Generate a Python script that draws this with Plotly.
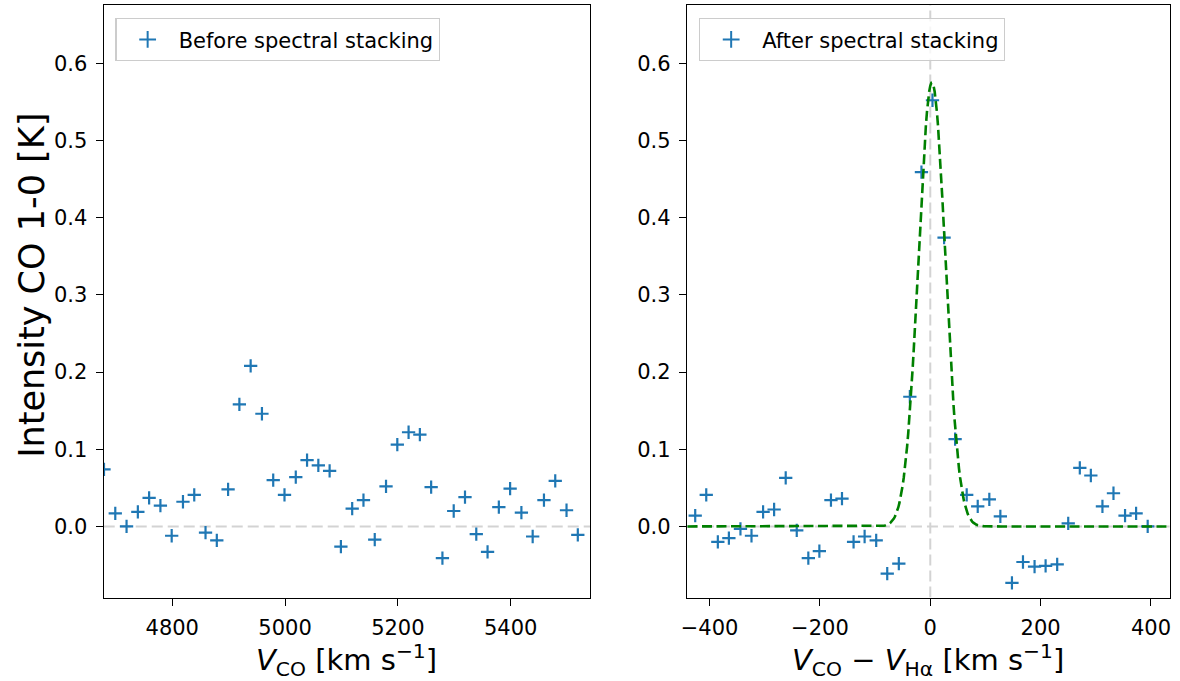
import math
import plotly.graph_objects as go

# ---------------- data ----------------
before_v = [4679, 4699, 4719, 4739, 4759, 4779, 4799, 4819, 4839, 4859, 4879,
            4899, 4919, 4939, 4959, 4979, 4999, 5019, 5039, 5059, 5079, 5099,
            5119, 5139, 5159, 5179, 5199, 5219, 5239, 5259, 5279, 5299, 5319,
            5339, 5359, 5379, 5399, 5419, 5439, 5459, 5479, 5499, 5519]
before_t = [0.074, 0.017, 0.000, 0.019, 0.037, 0.027, -0.012, 0.032, 0.041, -0.008, -0.018,
            0.048, 0.158, 0.208, 0.146, 0.060, 0.041, 0.064, 0.086, 0.079, 0.072, -0.026,
            0.023, 0.034, -0.017, 0.052, 0.106, 0.122, 0.119, 0.051, -0.041, 0.020, 0.038,
            -0.010, -0.033, 0.025, 0.049, 0.018, -0.013, 0.034, 0.059, 0.021, -0.011]

after_v = [-426, -406, -385, -365, -344, -324, -303, -283, -262, -242, -221,
           -201, -180, -160, -139, -119, -98, -78, -57, -37, -16, 4, 25, 45,
           66, 86, 107, 127, 148, 168, 189, 209, 230, 250, 271, 291, 312, 332,
           353, 373, 394]
after_t = [0.014, 0.041, -0.020, -0.015, -0.003, -0.012, 0.019, 0.022, 0.063, -0.005, -0.041,
           -0.032, 0.034, 0.036, -0.020, -0.013, -0.018, -0.061, -0.048, 0.168, 0.459, 0.552,
           0.374, 0.113, 0.041, 0.026, 0.035, 0.013, -0.073, -0.046, -0.052, -0.051, -0.049,
           0.004, 0.076, 0.066, 0.026, 0.043, 0.014, 0.017, 0.000]

# Gaussian fit parameters (amplitude [K], centre, sigma [km/s])
fit_amp = 0.575
fit_mu = 3.0
fit_sigma = 24.3
fit_v = [-440 + 2 * i for i in range(438)]
fit_t = [fit_amp * math.exp(-((v - fit_mu) ** 2) / (2 * fit_sigma ** 2)) for v in fit_v]

y_ticks = [0.0, 0.1, 0.2, 0.3, 0.4, 0.5, 0.6]
left_xticks = [4800, 5000, 5200, 5400]
right_xticks = [-400, -200, 0, 200, 400]

# ---------------- figure ----------------
W, H = 1180, 681
FONT = "DejaVu Sans"
BLUE = "#1f77b4"
GREY = "#d3d3d3"
TICK_SIZE = 21
LABEL_SIZE = 29

fig = go.Figure()

marker = dict(symbol="cross-thin", size=9.5, color=BLUE, line=dict(color=BLUE, width=2.2))

fig.add_trace(go.Scatter(x=before_v, y=before_t, mode="markers", marker=marker,
                         name="Before spectral stacking", xaxis="x", yaxis="y",
                         legend="legend"))
fig.add_trace(go.Scatter(x=after_v, y=after_t, mode="markers", marker=marker,
                         name="After spectral stacking", xaxis="x2", yaxis="y2",
                         legend="legend2"))
fig.add_trace(go.Scatter(x=fit_v, y=fit_t, mode="lines",
                         line=dict(color="green", width=2.6, dash="10px,4.5px"),
                         showlegend=False, xaxis="x2", yaxis="y2"))

def px2x(p):
    return p / W

def px2y(p):
    return 1 - p / H

yd = [px2y(597.5), px2y(4.5)]
axis_common = dict(showline=True, mirror=True, linecolor="black", linewidth=1.3,
                   ticks="outside", ticklen=7, tickwidth=1.3, tickcolor="black",
                   showgrid=False, zeroline=False, ticklabelstandoff=4,
                   tickfont=dict(family=FONT, size=TICK_SIZE, color="black"))

legend_common = dict(xanchor="left", yanchor="top",
                     bgcolor="rgba(255,255,255,0.8)", bordercolor="#cccccc", borderwidth=1.3,
                     font=dict(family=FONT, size=TICK_SIZE, color="black"),
                     itemwidth=52, itemsizing="constant", tracegroupgap=0)

dash_grey = dict(color=GREY, width=2, dash="11px,5px")

fig.update_layout(
    width=W, height=H,
    margin=dict(l=0, r=0, t=0, b=0),
    paper_bgcolor="white", plot_bgcolor="white",
    font=dict(family=FONT, color="black"),
    xaxis=dict(domain=[px2x(98.3), px2x(587.7)], range=[4678.5, 5541],
               tickvals=left_xticks, anchor="y", **axis_common),
    yaxis=dict(domain=yd, range=[-0.092, 0.676], tickvals=y_ticks, tickformat=".1f",
               anchor="x", **axis_common),
    xaxis2=dict(domain=[px2x(685), px2x(1170.7)], range=[-441, 434],
                tickvals=right_xticks, anchor="y2", **axis_common),
    yaxis2=dict(domain=yd, range=[-0.092, 0.676], tickvals=y_ticks, tickformat=".1f",
                anchor="x2", **axis_common),
    legend=dict(x=px2x(110), y=px2y(18), **legend_common),
    legend2=dict(x=px2x(697), y=px2y(18), **legend_common),
    shapes=[
        dict(type="line", xref="x", yref="y", x0=4678.5, x1=5541, y0=0, y1=0,
             line=dash_grey, layer="below"),
        dict(type="line", xref="x2", yref="y2", x0=-441, x1=434, y0=0, y1=0,
             line=dash_grey, layer="below"),
        dict(type="line", xref="x2", yref="y2", x0=0, x1=0, y0=-0.092, y1=0.676,
             line=dash_grey, layer="below"),
    ],
    annotations=[
        dict(text="Intensity CO 1-0 [K]", xref="paper", yref="paper",
             x=px2x(26), y=px2y(285), textangle=-90, showarrow=False,
             xanchor="center", yanchor="middle",
             font=dict(family=FONT, size=35, color="black")),
        dict(text="<i>V</i><sub>CO</sub> [km s<sup>−1</sup>]", xref="paper", yref="paper",
             x=px2x(343), y=px2y(659.5), showarrow=False, xanchor="center", yanchor="middle",
             font=dict(family=FONT, size=LABEL_SIZE, color="black")),
        dict(text="<i>V</i><sub>CO</sub> − <i>V</i><sub>Hα</sub> [km s<sup>−1</sup>]",
             xref="paper", yref="paper",
             x=px2x(928), y=px2y(659.5), showarrow=False, xanchor="center", yanchor="middle",
             font=dict(family=FONT, size=LABEL_SIZE, color="black")),
    ],
)

fig.write_html("out.html")
